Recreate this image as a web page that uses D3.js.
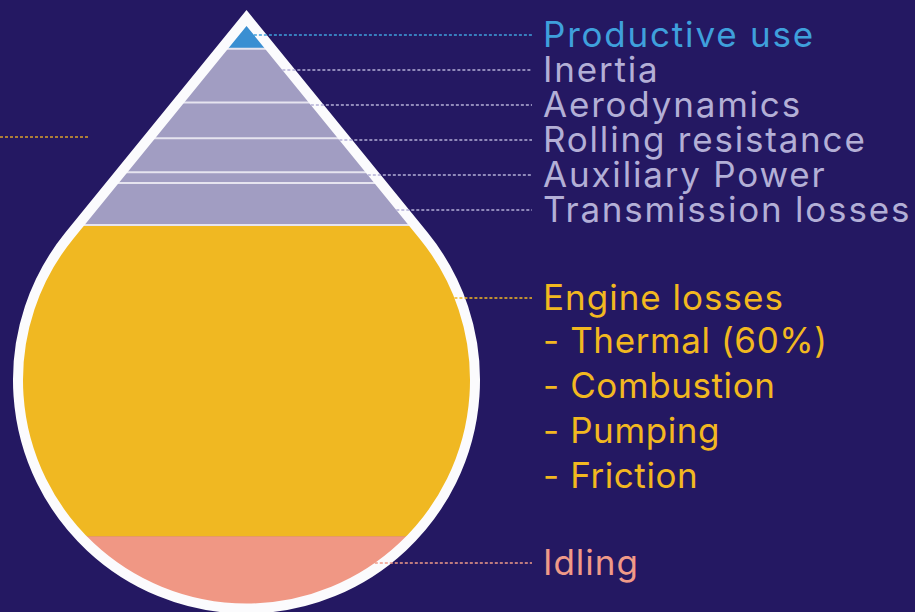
<!DOCTYPE html>
<meta charset="utf-8">
<script src="https://d3js.org/d3.v7.min.js"></script>
<style>
  body { margin: 0; background: #241862; }
  text { font-family: Inter, "Noto Sans", sans-serif; }
</style>
<div id="drop"></div>
<script>
var width = 915
var height = 612

// layers of the drop, top to bottom (share of drop height, %)
var categories = ["Productive use", "Inertia", "Aerodynamics", "Rolling resistance",
                  "Auxiliary Power", "Transmission losses", "Engine losses", "Idling"]
var shares = [3.96, 9.30, 6.20, 5.86, 1.89, 7.24, 53.92, 11.63]
var groups = ["use", "road", "road", "road", "road", "road", "engine", "idle"]
var engineItems = ["- Thermal (60%)", "- Combustion", "- Pumping", "- Friction"]

var fillColor = d3.scaleOrdinal()
  .domain(["use", "road", "engine", "idle"])
  .range(["#3a8fd2", "#a19dc2", "#f0b822", "#f09784"])
var textColor = d3.scaleOrdinal()
  .domain(["use", "road", "engine", "idle"])
  .range(["#3fa0dc", "#b3afd6", "#f2b820", "#f09a88"])

var svg = d3.select("#drop")
  .append("svg")
    .attr("width", width)
    .attr("height", height)

svg.append("rect")
  .attr("width", width).attr("height", height)
  .attr("fill", "#241862")

// drop geometry (centre line of the white outline)
var cx = 246.5, cy = 380, r = 228.5, apexY = 18, sw = 10
var d = cy - apexY
var alpha = Math.asin(r / d)              // half angle at the tip
var ty = cy - r * r / d                   // tangent points
var tx = r * Math.sqrt(1 - (r / d) * (r / d))

var dropPath = "M" + cx + "," + apexY +
  "L" + (cx + tx) + "," + ty +
  "A" + r + "," + r + " 0 1 1 " + (cx - tx) + "," + ty + "Z"

// inner edge x (right side) at a given y
function innerX(yy) {
  if (yy < ty) return cx + (yy - apexY) * Math.tan(alpha) - (sw / 2) / Math.cos(alpha)
  return cx + Math.sqrt(Math.max(0, (r - sw / 2) * (r - sw / 2) - (yy - cy) * (yy - cy)))
}

var innerTop = apexY + (sw / 2) / Math.sin(alpha)
var innerBottom = cy + r - sw / 2

var y = d3.scaleLinear()
  .domain([0, d3.sum(shares)])
  .range([innerTop, innerBottom])

var layers = []
var acc = 0
shares.forEach(function(s, i) {
  layers.push({name: categories[i], group: groups[i], y0: acc, y1: acc + s})
  acc += s
})

svg.append("clipPath").attr("id", "clip")
  .append("path").attr("d", dropPath)

var g = svg.append("g").attr("clip-path", "url(#clip)")

g.selectAll("rect.layer")
  .data(layers)
  .enter().append("rect")
    .attr("class", "layer")
    .attr("x", cx - r - 10)
    .attr("width", 2 * r + 20)
    .attr("y", function(d) { return y(d.y0) })
    .attr("height", function(d) { return y(d.y1) - y(d.y0) + (d.group == "idle" ? 10 : 0.5) })
    .attr("fill", function(d) { return fillColor(d.group) })

// thin separators between the small layers
g.selectAll("line.sep")
  .data(layers.filter(function(d) { return d.group == "road" || d.group == "use" }))
  .enter().append("line")
    .attr("class", "sep")
    .attr("x1", cx - r).attr("x2", cx + r)
    .attr("y1", function(d) { return y(d.y1) })
    .attr("y2", function(d) { return y(d.y1) })
    .style("stroke", "#e6e4ef")
    .style("stroke-width", 2)

svg.append("path")
  .attr("d", dropPath)
  .style("fill", "none")
  .style("stroke", "#fbfbfd")
  .style("stroke-width", sw)
  .style("stroke-linejoin", "miter")

// labels
var labelX = 543, leaderEnd = 532
var labels = []
for (var i = 0; i < 6; i++) labels.push({name: categories[i], group: groups[i], ly: 35 + i * 35, size: 35, ls: 1.8})
labels.push({name: categories[6], group: groups[6], ly: 298, size: 35, ls: 1})
labels.push({name: categories[7], group: groups[7], ly: 563, size: 35, ls: 1})

svg.selectAll("line.leader")
  .data(labels)
  .enter().append("line")
    .attr("class", "leader")
    .attr("x1", function(d) { return innerX(d.ly) })
    .attr("x2", leaderEnd)
    .attr("y1", function(d) { return d.ly })
    .attr("y2", function(d) { return d.ly })
    .style("stroke", function(d) { return textColor(d.group) })
    .style("stroke-width", 1.3)
    .style("stroke-dasharray", "3,2")

svg.selectAll("text.label")
  .data(labels)
  .enter().append("text")
    .attr("class", "label")
    .attr("x", labelX)
    .attr("y", function(d) { return d.ly + 12 })
    .style("font-size", function(d) { return d.size + "px" })
    .style("letter-spacing", function(d) { return d.ls + "px" })
    .style("fill", function(d) { return textColor(d.group) })
    .text(function(d) { return d.name })

svg.selectAll("text.item")
  .data(engineItems)
  .enter().append("text")
    .attr("class", "item")
    .attr("x", labelX)
    .attr("y", function(d, i) { return 353 + i * 45 })
    .style("font-size", "35px")
    .style("letter-spacing", "0.6px")
    .style("fill", textColor("engine"))
    .text(function(d) { return d })

// stray leader on the left edge
svg.append("line")
  .attr("x1", 0).attr("x2", 90)
  .attr("y1", 137).attr("y2", 137)
  .style("stroke", "#d9a02a")
  .style("stroke-width", 1.3)
  .style("stroke-dasharray", "3,2")
</script>
